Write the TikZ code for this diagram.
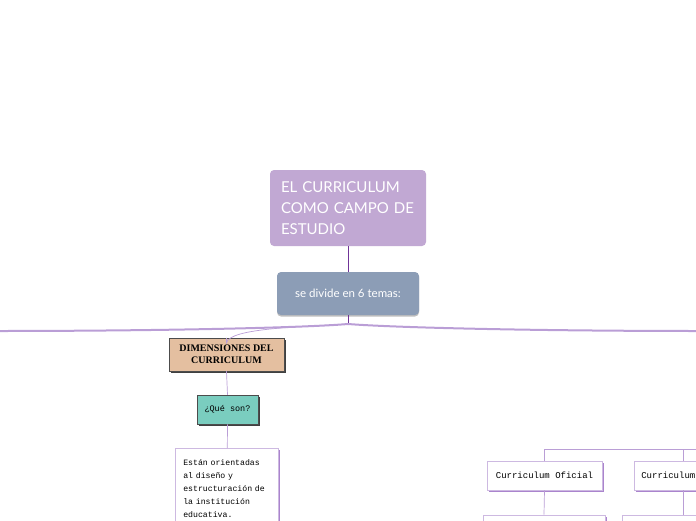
\documentclass[tikz,border=0pt]{standalone}
\usepackage{fontspec}
\setmainfont{Lato}
\newfontfamily\dimfont{Liberation Serif}
\newfontfamily\notefont{Liberation Mono}
\usetikzlibrary{arrows.meta, positioning, shadows}

\definecolor{titlefill}{RGB}{193,168,211}
\definecolor{subfill}{RGB}{140,157,182}
\definecolor{tanfill}{RGB}{228,191,160}
\definecolor{tealfill}{RGB}{122,205,191}
\definecolor{linkdark}{RGB}{112,52,152}
\definecolor{linklight}{RGB}{186,158,214}
\definecolor{boxedge}{RGB}{205,185,225}
\definecolor{boxshade}{RGB}{170,132,205}

\begin{document}
\begin{tikzpicture}[
    x=1pt, y=-1pt,
    topic/.style={
        rectangle, rounded corners=4pt, fill=titlefill, text=white,
        minimum width=156pt, minimum height=76pt,
        text width=134pt, align=left, inner sep=0pt,
        font=\fontsize{15}{21}\selectfont
    },
    divide/.style={
        rectangle, rounded corners=4pt, fill=subfill, text=white,
        minimum width=142pt, minimum height=43pt, inner sep=0pt,
        font=\fontsize{11.5}{14}\selectfont,
        drop shadow={shadow xshift=0pt, shadow yshift=-1.5pt, fill=black!25, opacity=1}
    },
    heading/.style={
        rectangle, draw=black!70, line width=0.5pt, fill=tanfill,
        minimum width=115pt, minimum height=33pt, inner sep=0pt,
        align=center, font=\dimfont\bfseries\fontsize{10}{12}\selectfont,
        drop shadow={shadow xshift=2pt, shadow yshift=-2pt, fill=black!75, opacity=1}
    },
    askbox/.style={
        rectangle, draw=black!70, line width=0.5pt, fill=tealfill,
        minimum width=61pt, minimum height=29pt, inner sep=0pt,
        font=\notefont\fontsize{8.5}{10}\selectfont,
        drop shadow={shadow xshift=2pt, shadow yshift=-2pt, fill=black!75, opacity=1}
    },
    notebox/.style={
        rectangle, draw=boxedge, line width=0.6pt, fill=white,
        align=left, inner sep=0pt,
        drop shadow={shadow xshift=2pt, shadow yshift=-2pt, fill=boxshade, opacity=1}
    },
    link/.style={draw=linklight, line width=0.7pt},
    branch/.style={draw=linklight, line width=2pt},
]
\clip (0,0) rectangle (696,520);

% ── Central topic ──
\node[topic] (title) at (348,208) {EL CURRICULUM\\COMO CAMPO DE\\ESTUDIO};
\node[divide] (divide) at (348,293.5) {se divide en 6 temas:};
\coordinate (hub) at (348,324);
\coordinate (farleft) at (-5,331);
\coordinate (farright) at (701,331);

% ── Left branch ──
\node[heading] (dim) at (226.5,354.5) {DIMENSIONES DEL\\CURRICULUM};
\node[askbox] (que) at (227.5,409.5) {¿Qué son?};
\node[notebox, text width=87pt, inner xsep=8pt, inner ysep=4pt, anchor=north west,
      font=\notefont\fontsize{8.2}{13}\selectfont] (desc) at (175,448)
    {\rule{0pt}{13pt}Están orientadas\\al diseño y\\estructuración de\\la institución\\educativa.\\[14pt]};

% ── Right branch ──
\node[notebox, minimum width=115pt, minimum height=29pt, align=center,
      font=\notefont\fontsize{9}{11}\selectfont] (oficial) at (544.5,475.5) {Curriculum Oficial};
\node[notebox, anchor=west, minimum width=115pt, minimum height=29pt, text width=101pt,
      inner xsep=7pt, font=\notefont\fontsize{9}{11}\selectfont] (otro) at (634,475.5) {Curriculum};
\node[notebox, minimum width=122pt, minimum height=30pt, anchor=north] (low1) at (544,514.5) {};
\node[notebox, minimum width=122pt, minimum height=30pt, anchor=north west] (low2) at (622,514.5) {};
\coordinate (rjoin) at (730,449);

% ── Edges ──
\draw[draw=linkdark, line width=0.9pt] (title.south) -- (divide.north);
\draw[draw=linkdark, line width=0.9pt] (divide.south) -- (hub);
\draw[branch] (hub) .. controls (300,328) and (150,331) .. (farleft);
\draw[branch] (hub) .. controls (400,328) and (550,331) .. (farright);
\draw[link] (hub) .. controls (300,327) and (230,328) .. ([yshift=-5pt]dim.north) -- (dim.north);
\draw[link] (dim.south) -- (que.north);
\draw[link] (que.south) -- ([xshift=0.5pt]desc.north);
\draw[link] (oficial.north) |- (rjoin);
\draw[link] ([xshift=49pt]otro.north west) -- ++(0,-12);
\draw[link] (oficial.south) -- (low1.north);
\draw[link] ([xshift=61pt]low2.north west) -- ([xshift=49pt]otro.south west);

\end{tikzpicture}
\end{document}
